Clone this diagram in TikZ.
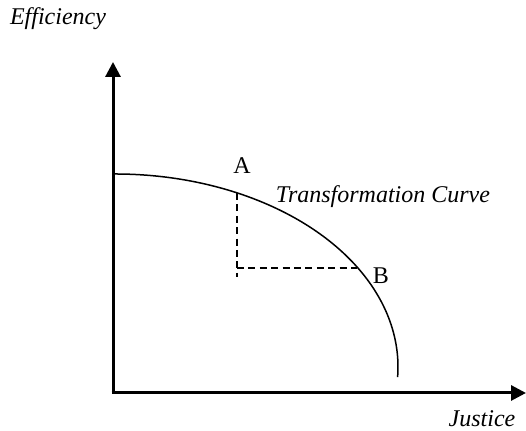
\documentclass[tikz,border=0pt]{standalone}
\usepackage{fontspec}
\setmainfont{Liberation Serif}
\usetikzlibrary{arrows.meta}
\tikzset{
  asse/.style={line width=1.5pt,-{Triangle[length=7.5pt,width=7.5pt]}},
  tratto/.style={line width=0.6pt,dash pattern=on 3.5pt off 2.2pt},
  etichetta/.style={font=\fontsize{12}{14}\selectfont\itshape,inner sep=0pt},
  punto/.style={font=\fontsize{12}{14}\selectfont,inner sep=0pt}
}
\begin{document}
\begin{tikzpicture}[x=0.5pt,y=0.5pt]
        \useasboundingbox (0,0) rectangle (526,431);
        %punti base
        \coordinate (O) at (113,38);
        \coordinate (ytip) at (113,369);
        \coordinate (xtip) at (526,38);
        \coordinate (start) at (115,257);
        \coordinate (A) at (237,238);
        \coordinate (B) at (357,163);
        \coordinate (Afoot) at (237,154);
        \coordinate (corner) at (237,163);
        %disegno assi
        \draw[asse] (O) -- (ytip);
        \draw[asse] ([xshift=-0.75pt]O) -- (xtip);
        %curva di trasformazione
        \draw[line width=0.75pt] (start) arc[start angle=90, end angle=-3, x radius=283, y radius=193];
        %tratteggio
        \draw[tratto] (A) -- (Afoot);
        \draw[tratto] (corner) -- (B);
        %label
        \node[etichetta] (eff) at (58,412) {Efficiency};
        \node[etichetta] (just) at (482,12) {Justice};
        \node[etichetta] (curve) at (383,234) {Transformation Curve};
        \node[punto] (labA) at (242,265) {A};
        \node[punto] (labB) at (381,155) {B};
\end{tikzpicture}
\end{document}
